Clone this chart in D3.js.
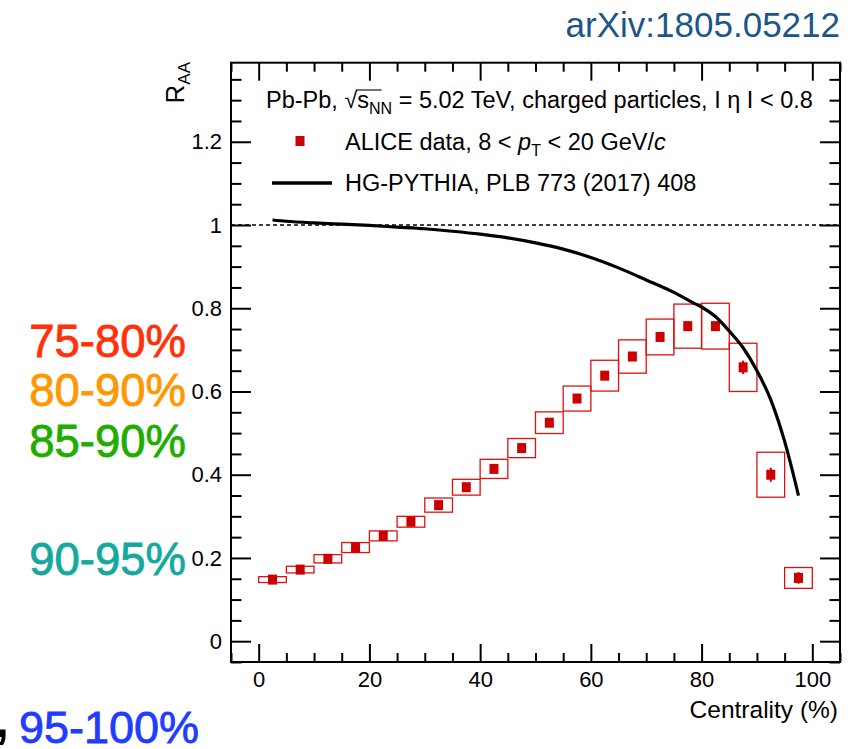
<!DOCTYPE html>
<html>
<head>
<meta charset="utf-8">
<script src="https://cdn.jsdelivr.net/npm/d3@7"></script>
<style>
  body { margin: 0; background: #fff; }
  svg { display: block; font-family: "Liberation Sans", Arial, Helvetica, sans-serif; }
</style>
</head>
<body>
<svg id="chart" width="858" height="749"></svg>
<script>
// centrality bins (%), ALICE R_AA and uncertainties
var binLo   = [0, 5, 10, 15, 20, 25, 30, 35, 40, 45, 50, 55, 60, 65, 70, 75, 80, 85, 90, 95];
var binHi   = [5, 10, 15, 20, 25, 30, 35, 40, 45, 50, 55, 60, 65, 70, 75, 80, 85, 90, 95, 100];
var binMid  = [2.5, 7.5, 12.5, 17.5, 22.5, 27.5, 32.5, 37.5, 42.5, 47.5, 52.5, 57.5, 62.5, 67.5, 72.5, 77.5, 82.5, 87.5, 92.5, 97.5];
var raa     = [0.148, 0.172, 0.198, 0.225, 0.253, 0.287, 0.327, 0.370, 0.414, 0.464, 0.525, 0.583, 0.638, 0.684, 0.731, 0.757, 0.757, 0.658, 0.400, 0.152];
var sysErr  = [0.007, 0.008, 0.010, 0.012, 0.012, 0.013, 0.017, 0.019, 0.023, 0.023, 0.026, 0.030, 0.037, 0.040, 0.043, 0.053, 0.055, 0.058, 0.054, 0.025];
var statErr = [0.002, 0.002, 0.002, 0.002, 0.002, 0.002, 0.002, 0.003, 0.003, 0.003, 0.003, 0.003, 0.004, 0.004, 0.005, 0.006, 0.007, 0.016, 0.017, 0.014];

// HG-PYTHIA curve
var modelX = [2.5, 5, 10, 15, 20, 25, 30, 35, 40, 45, 50, 55, 60, 65, 70, 75, 78.5, 80, 82.5, 85, 87.5, 90, 92.5, 95, 97.5];
var modelY = [1.012, 1.009, 1.005, 1.002, 0.999, 0.995, 0.991, 0.985, 0.978, 0.969, 0.957, 0.942, 0.922, 0.897, 0.868, 0.838, 0.813, 0.803, 0.780, 0.745, 0.705, 0.650, 0.580, 0.480, 0.350];

var xMajor = [0, 20, 40, 60, 80, 100];
var xMinor = [-5, 5, 10, 15, 25, 30, 35, 45, 50, 55, 65, 70, 75, 85, 90, 95, 105];
var yMajor = [0, 0.2, 0.4, 0.6, 0.8, 1, 1.2];
var yMinor = [-0.05, 0.05, 0.1, 0.15, 0.25, 0.3, 0.35, 0.45, 0.5, 0.55, 0.65, 0.7, 0.75, 0.85, 0.9, 0.95, 1.05, 1.1, 1.15, 1.25, 1.3, 1.35];

var sideLabels  = ['75-80%', '80-90%', '85-90%', '90-95%'];
var sideColors  = ['#ff3108', '#ff9700', '#20ad00', '#13a99e'];
var sideCenters = [341, 390, 441, 559];

var
  svg = d3.select('#chart'),
  plotL = 231, plotR = 840, plotT = 62.7, plotB = 662,
  red = '#cc0000',
  legendFont = '23.5px',
  xScale = d3.scaleLinear().domain([-5, 105]).range([plotL, plotR]),
  yScale = d3.scaleLinear().domain([-0.05, 1.39]).range([plotB, plotT])
  ;

function noLabel(){ return ''; }
function yFmt(d){ return (d === 0 || d === 1) ? String(d) : d3.format('.1f')(d); }

// axes: ticks pointing inward on all four sides
function styleAxis(g){
  g.select('.domain').remove();
  g.selectAll('line').attr('stroke', '#000').attr('stroke-width', 2);
  g.selectAll('text').attr('fill', '#000').style('font-size', '22px');
  g.attr('font-family', null).attr('font-size', null);
}

svg.append('g')
  .attr('transform', 'translate(0,' + plotB + ')')
  .call(d3.axisBottom(xScale).tickValues(xMajor).tickSize(-18).tickSizeOuter(0).tickPadding(9))
  .call(styleAxis);
svg.append('g')
  .attr('transform', 'translate(0,' + plotB + ')')
  .call(d3.axisBottom(xScale).tickValues(xMinor).tickSize(-9).tickSizeOuter(0).tickFormat(noLabel))
  .call(styleAxis);
svg.append('g')
  .attr('transform', 'translate(0,' + plotT + ')')
  .call(d3.axisTop(xScale).tickValues(xMajor).tickSize(-18).tickSizeOuter(0).tickFormat(noLabel))
  .call(styleAxis);
svg.append('g')
  .attr('transform', 'translate(0,' + plotT + ')')
  .call(d3.axisTop(xScale).tickValues(xMinor).tickSize(-9).tickSizeOuter(0).tickFormat(noLabel))
  .call(styleAxis);
svg.append('g')
  .attr('transform', 'translate(' + plotL + ',0)')
  .call(d3.axisLeft(yScale).tickValues(yMajor).tickSize(-20).tickSizeOuter(0).tickPadding(9).tickFormat(yFmt))
  .call(styleAxis);
svg.append('g')
  .attr('transform', 'translate(' + plotL + ',0)')
  .call(d3.axisLeft(yScale).tickValues(yMinor).tickSize(-10.5).tickSizeOuter(0).tickFormat(noLabel))
  .call(styleAxis);
svg.append('g')
  .attr('transform', 'translate(' + plotR + ',0)')
  .call(d3.axisRight(yScale).tickValues(yMajor).tickSize(-20).tickSizeOuter(0).tickFormat(noLabel))
  .call(styleAxis);
svg.append('g')
  .attr('transform', 'translate(' + plotR + ',0)')
  .call(d3.axisRight(yScale).tickValues(yMinor).tickSize(-10.5).tickSizeOuter(0).tickFormat(noLabel))
  .call(styleAxis);

// frame
svg.append('rect')
  .attr('x', plotL).attr('y', plotT)
  .attr('width', plotR - plotL).attr('height', plotB - plotT)
  .attr('fill', 'none').attr('stroke', '#000').attr('stroke-width', 2);

// unity line
svg.append('line')
  .attr('x1', xScale(-5)).attr('x2', xScale(105))
  .attr('y1', yScale(1)).attr('y2', yScale(1))
  .attr('stroke', '#000').attr('stroke-width', 1.3)
  .attr('stroke-dasharray', '4,3');

// systematic boxes
svg.append('g').selectAll('rect')
  .data(binMid)
  .join('rect')
  .attr('x', function(d, i){ return xScale(binLo[i]); })
  .attr('width', function(d, i){ return xScale(binHi[i]) - xScale(binLo[i]); })
  .attr('y', function(d, i){ return yScale(raa[i] + sysErr[i]); })
  .attr('height', function(d, i){ return yScale(raa[i] - sysErr[i]) - yScale(raa[i] + sysErr[i]); })
  .attr('fill', 'none')
  .attr('stroke', '#dd1111')
  .attr('stroke-width', 1.3);

// statistical bars
svg.append('g').selectAll('line')
  .data(binMid)
  .join('line')
  .attr('x1', function(d){ return xScale(d); })
  .attr('x2', function(d){ return xScale(d); })
  .attr('y1', function(d, i){ return yScale(raa[i] + statErr[i]); })
  .attr('y2', function(d, i){ return yScale(raa[i] - statErr[i]); })
  .attr('stroke', red)
  .attr('stroke-width', 2);

// markers
svg.append('g').selectAll('rect')
  .data(binMid)
  .join('rect')
  .attr('x', function(d){ return xScale(d) - 4.5; })
  .attr('y', function(d, i){ return yScale(raa[i]) - 5; })
  .attr('width', 9)
  .attr('height', 10)
  .attr('fill', red);

// model curve
var line = d3.line()
  .curve(d3.curveMonotoneX)
  .x(function(d){ return xScale(d); })
  .y(function(d, i){ return yScale(modelY[i]); });

svg.append('path')
  .attr('d', line(modelX))
  .attr('fill', 'none')
  .attr('stroke', '#000')
  .attr('stroke-width', 3.2);

// legend
var title = svg.append('text')
  .attr('x', 266).attr('y', 108)
  .style('font-size', legendFont);
title.append('tspan').text('Pb-Pb, ');
title.append('tspan').text('\u221A');
title.append('tspan').text('s');
title.append('tspan').attr('dy', 6).style('font-size', '16px').text('NN');
title.append('tspan').attr('dy', -6).text(' = 5.02 TeV, charged particles, I \u03B7 I < 0.8');

// overline of the square root
(function(){
  var node = title.node(),
    rad = node.getExtentOfChar(7),
    nn = node.getExtentOfChar(9);
  svg.append('line')
    .attr('x1', rad.x + rad.width - 0.5).attr('x2', nn.x + nn.width + 1)
    .attr('y1', rad.y + 3).attr('y2', rad.y + 3)
    .attr('stroke', '#000').attr('stroke-width', 1.1);
})();

svg.append('rect')
  .attr('x', 295.5).attr('y', 136).attr('width', 9).attr('height', 10)
  .attr('fill', red);

var leg2 = svg.append('text')
  .attr('x', 345).attr('y', 150)
  .style('font-size', legendFont);
leg2.append('tspan').text('ALICE data, 8 < ');
leg2.append('tspan').style('font-style', 'italic').text('p');
leg2.append('tspan').attr('dy', 6).style('font-size', '16px').text('T');
leg2.append('tspan').attr('dy', -6).text(' < 20 GeV/');
leg2.append('tspan').style('font-style', 'italic').text('c');

svg.append('line')
  .attr('x1', 272).attr('x2', 332).attr('y1', 183).attr('y2', 183)
  .attr('stroke', '#000').attr('stroke-width', 3.5);

svg.append('text')
  .attr('x', 345).attr('y', 191)
  .style('font-size', legendFont)
  .text('HG-PYTHIA, PLB 773 (2017) 408');

// axis titles
var yTitle = svg.append('text')
  .attr('transform', 'translate(184,62) rotate(-90)')
  .attr('text-anchor', 'end')
  .style('font-size', '26px');
yTitle.append('tspan').text('R');
yTitle.append('tspan').attr('dy', 6).style('font-size', '17px').text('AA');

svg.append('text')
  .attr('x', 838).attr('y', 718)
  .attr('text-anchor', 'end')
  .style('font-size', '24.5px')
  .text('Centrality (%)');

// arXiv tag
svg.append('text')
  .attr('x', 840).attr('y', 37)
  .attr('text-anchor', 'end')
  .attr('fill', '#1c5689')
  .style('font-size', '35px')
  .text('arXiv:1805.05212');

// coloured centrality labels on the left
svg.append('g').selectAll('text')
  .data(sideLabels)
  .join('text')
  .attr('x', 186)
  .attr('y', function(d, i){ return sideCenters[i]; })
  .attr('dy', '0.36em')
  .attr('text-anchor', 'end')
  .attr('fill', function(d, i){ return sideColors[i]; })
  .attr('stroke', function(d, i){ return sideColors[i]; })
  .attr('stroke-width', 0.8)
  .style('font-size', '45.5px')
  .text(function(d){ return d; });

svg.append('text')
  .attr('x', -5).attr('y', 737)
  .attr('fill', '#000')
  .style('font-size', '50px')
  .style('font-weight', 'bold')
  .text(',');

svg.append('text')
  .attr('x', 19).attr('y', 743)
  .attr('fill', '#1f3cff')
  .attr('stroke', '#1f3cff')
  .attr('stroke-width', 0.8)
  .style('font-size', '45px')
  .text('95-100%');
</script>
</body>
</html>
